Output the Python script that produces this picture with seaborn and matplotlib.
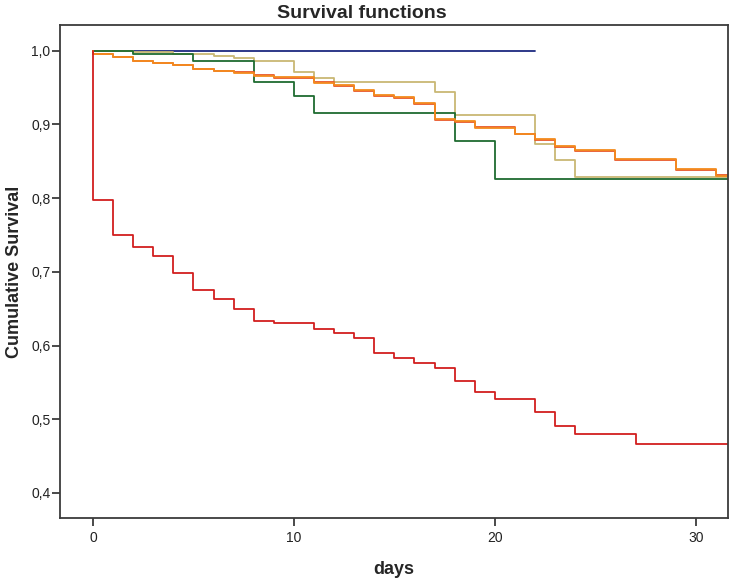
import pandas as pd
import numpy as np
import matplotlib
matplotlib.use("Agg")
import matplotlib.pyplot as plt
import seaborn as sns
from matplotlib.ticker import FuncFormatter

# step points (time, survival)
blue_t = [0, 22]
blue_s = [1.0, 1.0]

khaki_t = [0, 2, 4, 6, 7, 8, 10, 11, 12, 17, 18, 22, 23, 24, 31.6]
khaki_s = [1.0, 0.998, 0.9955, 0.993, 0.990, 0.9865, 0.9706, 0.963, 0.957, 0.944, 0.913,
           0.873, 0.852, 0.829, 0.829]

green_t = [0, 2, 5, 8, 10, 11, 18, 20, 31.6]
green_s = [1.0, 0.9955, 0.9865, 0.958, 0.939, 0.916, 0.878, 0.826, 0.826]

redorange_t = [0, 0, 1, 2, 3, 4, 5, 6, 7, 8, 9, 11, 12, 13, 14, 15, 16, 17, 18, 19, 21, 22,
               23, 24, 26, 29, 31, 31.6]
redorange_s = [1.0, 0.9959, 0.9915, 0.9868, 0.984, 0.9806, 0.975, 0.9729, 0.9706, 0.9665,
               0.963, 0.9575, 0.9525, 0.945, 0.939, 0.936, 0.928, 0.906, 0.903, 0.8965,
               0.8875, 0.879, 0.869, 0.864, 0.852, 0.838, 0.832, 0.832]

orange_t = [0, 0, 1, 2, 3, 4, 5, 6, 7, 8, 9, 11, 12, 13, 14, 15, 16, 17, 18, 19, 21, 22,
            23, 24, 26, 29, 31, 31.6]
orange_s = [1.0, 0.9955, 0.9912, 0.9865, 0.9837, 0.9803, 0.9747, 0.9726, 0.9703, 0.9662,
            0.9645, 0.956, 0.954, 0.9465, 0.9405, 0.9375, 0.9295, 0.9075, 0.9045, 0.8955,
            0.887, 0.8805, 0.8705, 0.8655, 0.8535, 0.8395, 0.830, 0.830]

red_t = [0, 0, 1, 2, 3, 4, 5, 6, 7, 8, 9, 11, 12, 13, 14, 15, 16, 17, 18, 19, 20, 22, 23,
         24, 27, 31.6]
red_s = [1.0, 0.798, 0.750, 0.734, 0.722, 0.699, 0.676, 0.663, 0.650, 0.634, 0.630, 0.623,
         0.617, 0.610, 0.590, 0.583, 0.577, 0.569, 0.552, 0.537, 0.528, 0.510, 0.491, 0.480,
         0.467, 0.467]

groups = ["blue", "khaki", "green", "redorange", "orange", "red"]
times = [blue_t, khaki_t, green_t, redorange_t, orange_t, red_t]
survs = [blue_s, khaki_s, green_s, redorange_s, orange_s, red_s]
colors = {"blue": "#1c2a80", "khaki": "#c9b874", "green": "#1f6b30",
          "redorange": "#e8582a", "orange": "#f38b1e", "red": "#d21f1f"}

frames = []
for g, t, s in zip(groups, times, survs):
    frames.append(pd.DataFrame({"days": t, "surv": s, "group": g, "order": range(len(t))}))
df = pd.concat(frames, ignore_index=True)

sns.set_style("ticks")
plt.rcParams["font.family"] = ["Liberation Sans", "DejaVu Sans"]

fig = plt.figure(figsize=(7.35, 5.79), dpi=100)
ax = fig.add_axes([60 / 735, 1 - 518 / 579, 668 / 735, 493 / 579])

sns.lineplot(data=df, x="days", y="surv", hue="group", hue_order=groups,
             palette=colors, estimator=None, sort=False, units="group",
             drawstyle="steps-post", linewidth=1.3, legend=False, ax=ax)

ax.set_xlim(-1.64, 31.6)
ax.set_ylim(0.366, 1.035)
ax.set_xticks([0, 10, 20, 30])
ax.set_yticks([0.4, 0.5, 0.6, 0.7, 0.8, 0.9, 1.0])
ax.yaxis.set_major_formatter(FuncFormatter(lambda v, p: f"{v:.1f}".replace(".", ",")))

for sp in ax.spines.values():
    sp.set_visible(True)
    sp.set_color("#3c3c3c")
    sp.set_linewidth(1.3)

ax.tick_params(axis="both", direction="out", length=6, width=1.3, color="#3c3c3c",
               labelsize=10, labelcolor="#222222")
ax.tick_params(axis="y", pad=1)
ax.tick_params(axis="x", pad=3)
for lab in ax.get_xticklabels() + ax.get_yticklabels():
    lab.set_family(["Liberation Sans Narrow", "Liberation Sans", "DejaVu Sans"])

ax.set_xlabel("days", fontsize=13, fontweight="bold", labelpad=12)
ax.set_ylabel("Cumulative Survival", fontsize=13, fontweight="bold", labelpad=6)
fig.text(362 / 735, 1 - 13 / 579, "Survival functions", fontsize=14,
         fontweight="bold", ha="center", va="center")

fig.savefig("out.png", dpi=100, facecolor="white")
